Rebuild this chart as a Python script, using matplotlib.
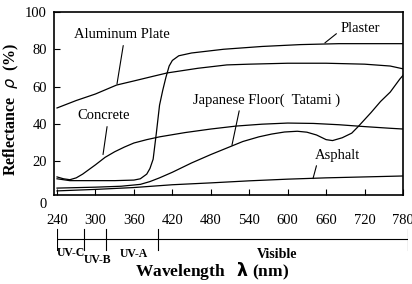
import matplotlib
matplotlib.use('Agg')
import matplotlib.pyplot as plt

plt.rcParams['font.family'] = ['Liberation Serif', 'DejaVu Serif']

# Datos (reflectancia en %)
aluminio_nm = [240, 270, 300, 333, 360, 390, 412, 460, 505, 540, 600, 660, 720, 760, 780]
aluminio = [48.5, 52.5, 56, 60.8, 63, 65.5, 67.3, 69.8, 71.6, 72, 72.5, 72.5, 72, 71, 69.5]

yeso_nm = [240, 260, 300, 330, 360, 370, 380, 385, 390, 395, 400, 405, 410, 415, 420,
           430, 450, 500, 560, 620, 680, 780]
yeso = [10.5, 9.5, 9.5, 9.5, 9.8, 10.5, 13, 16, 21, 35, 50, 58, 65, 71, 74,
        76.5, 78, 80, 81.5, 82.5, 83, 83]

hormigon_nm = [240, 250, 260, 270, 280, 290, 300, 315, 330, 345, 360, 380, 400, 440,
               480, 520, 560, 600, 640, 680, 720, 760, 780]
hormigon = [11.5, 10.5, 10, 11, 13, 15.5, 18, 22, 25, 27.5, 29.7, 31.5, 33, 35.3,
            37.2, 38.8, 39.8, 40.4, 40.2, 39.5, 38.5, 37.6, 37.2]

tatami_nm = [240, 300, 340, 370, 385, 400, 420, 450, 480, 505, 530, 555, 575, 595, 615,
             630, 645, 660, 670, 685, 700, 710, 730, 745, 760, 775, 780]
tatami = [5.5, 6, 6.5, 7.5, 9, 11, 14, 19, 23.5, 27, 30.5, 33, 34.5, 35.6, 36,
          35.5, 34, 31.5, 31, 32.5, 35, 38.5, 46, 52, 57, 64, 66]

asfalto_nm = [240, 300, 360, 420, 480, 540, 600, 660, 720, 780]
asfalto = [4, 4.8, 5.8, 7.3, 8.3, 9.4, 10.3, 11, 11.5, 12]

xticks = [240, 300, 360, 420, 480, 540, 600, 660, 720, 780]
yticks = [20, 40, 60, 80, 100]

# Bandas UV / visible (limites en nm)
bandas_lim = [240, 282, 315, 395, 780]

fig = plt.figure(figsize=(4.12, 2.84), dpi=100)
ax = fig.add_axes([0.1311, 0.3134, 0.8471, 0.6444])

for nm, val in [(aluminio_nm, aluminio), (yeso_nm, yeso), (hormigon_nm, hormigon),
                (tatami_nm, tatami), (asfalto_nm, asfalto)]:
    ax.plot(nm, val, color='black', linewidth=0.9)

ax.set_xlim(235.3, 780)
ax.set_ylim(1.8, 100)
ax.set_xticks(xticks)
ax.set_yticks(yticks)
ax.tick_params(direction='in', length=4, width=0.8, labelsize=10.5, pad=5)
ax.tick_params(axis='x', pad=14)
for s in ax.spines.values():
    s.set_linewidth(1.2)

ax.set_ylabel('Reflectance  $\\rho$  (%)', fontsize=11.5, fontweight='bold', labelpad=2)
ax.yaxis.set_label_coords(-0.095, 0.47)

# Etiquetas de las curvas
flecha = dict(arrowstyle='-', color='black', linewidth=0.8, shrinkA=1, shrinkB=0)
ax.annotate('Aluminum Plate', xy=(333.6, 61.4), xytext=(341.4, 87.7), fontsize=10.5,
            ha='center', va='center', arrowprops=dict(flecha, relpos=(0.52, 0)))
ax.annotate('Plaster', xy=(658, 83.4), xytext=(712.9, 91.4), fontsize=10.5,
            ha='center', va='center', arrowprops=dict(flecha, relpos=(0, 0.3)))
ax.annotate('Concrete', xy=(311.8, 23.5), xytext=(313.3, 44.2), fontsize=10.5,
            ha='center', va='center', arrowprops=dict(flecha, relpos=(0.57, 0)))
ax.annotate('Japanese Floor(  Tatami )', xy=(513, 28.5), xytext=(567, 52.8), fontsize=10.5,
            ha='center', va='center', arrowprops=dict(flecha, relpos=(0.32, 0)))
ax.annotate('Asphalt', xy=(639.5, 10.6), xytext=(677, 23.2), fontsize=10.5,
            ha='center', va='center', arrowprops=dict(flecha, relpos=(0.07, 0)))

fig.text(43 / 412, 1 - 205 / 284, '0', fontsize=10.5, ha='center', va='center')

# Eje de bandas debajo
bx = fig.add_axes([57 / 412, 1 - 265 / 284, 351 / 412, 40 / 284])
bx.set_xlim(240, 780)
bx.set_ylim(265, 225)
bx.axis('off')
bx.plot([bandas_lim[0], bandas_lim[-1]], [239, 239], color='black', linewidth=0.8)
for b in bandas_lim:
    bx.plot([b, b], [229, 250], color='black', linewidth=0.8)
bx.text(239, 253, 'UV-C', fontsize=8.5, fontweight='bold', ha='left', va='center')
bx.text(281, 260, 'UV-B', fontsize=8.5, fontweight='bold', ha='left', va='center')
bx.text(337, 254, 'UV-A', fontsize=8.5, fontweight='bold', ha='left', va='center')
bx.text(578, 255, 'Visible', fontsize=10, fontweight='bold', ha='center', va='center')

fig.text(212 / 412, 1 - 271 / 284, 'Wavelength   $\\mathbf{\\lambda}$ (nm)', fontsize=12.5,
         fontweight='bold', ha='center', va='center')

fig.savefig('out.png', dpi=100)
